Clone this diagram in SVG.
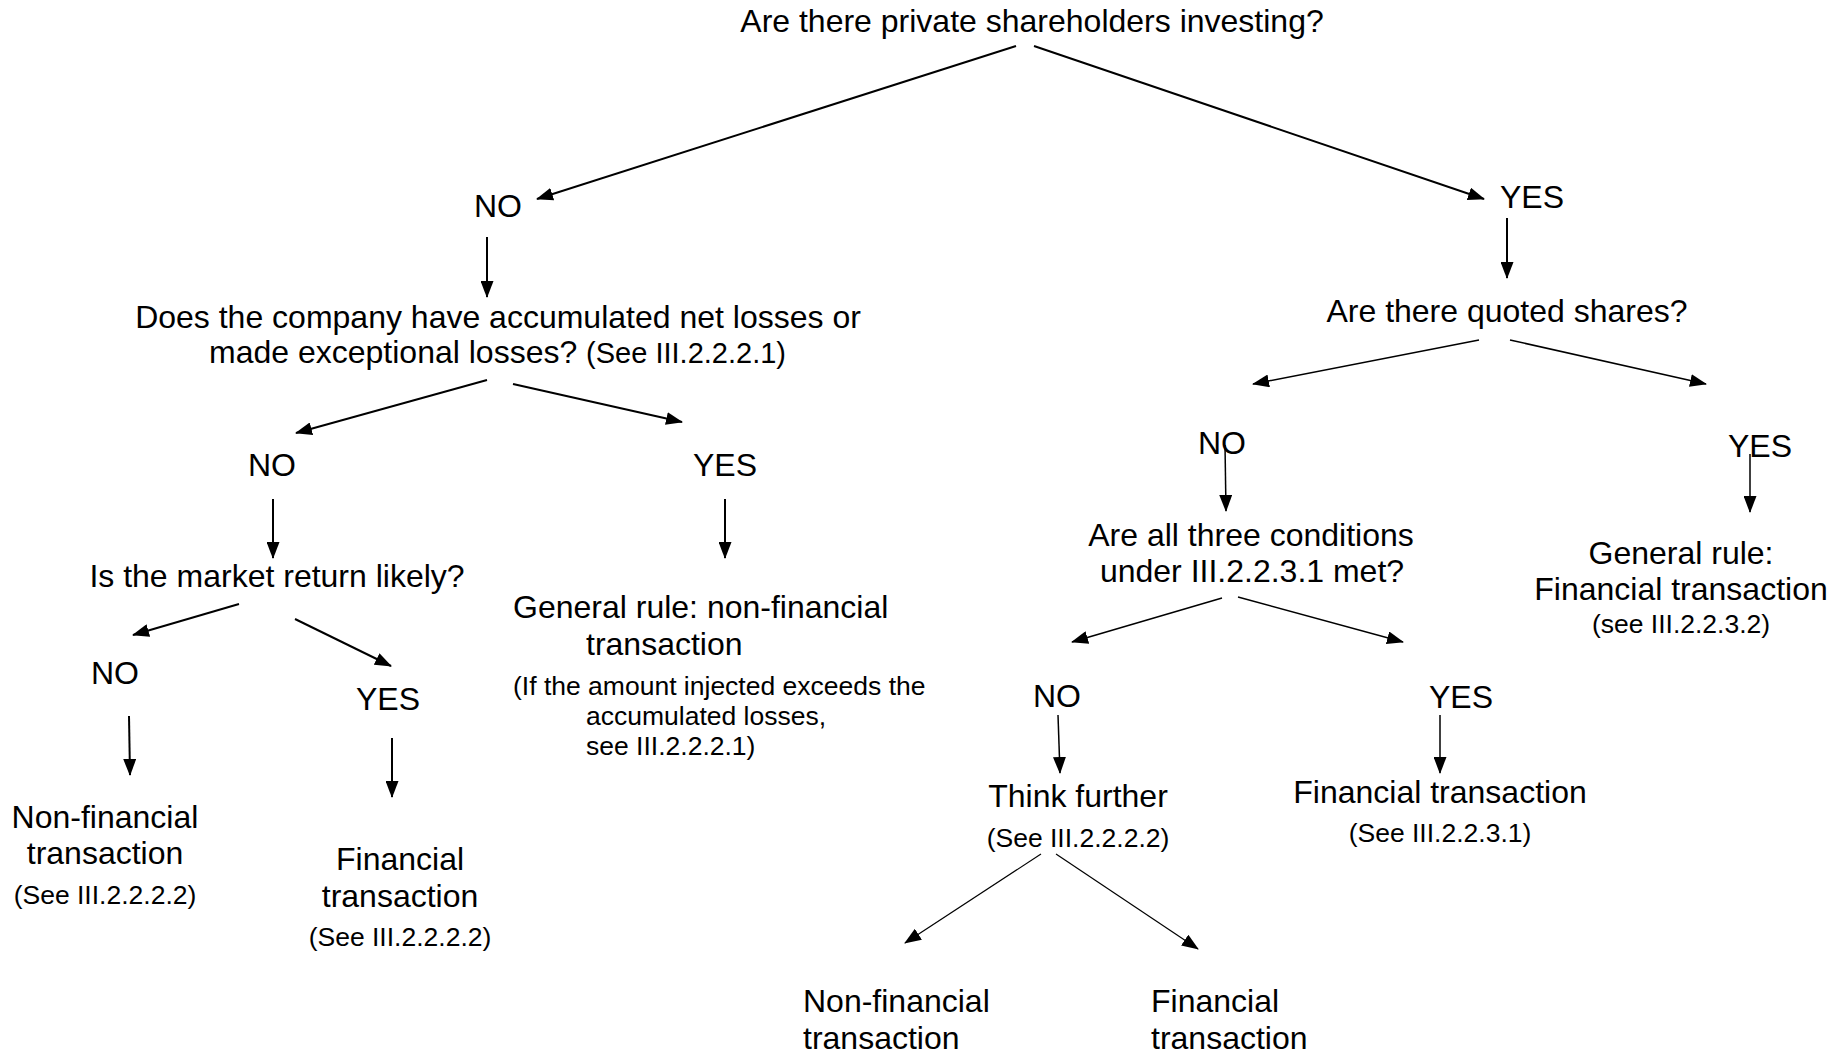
<svg xmlns="http://www.w3.org/2000/svg" width="1844" height="1053" viewBox="0 0 1844 1053">
<style>
text{font-family:"Liberation Sans",Arial,sans-serif;fill:#000}
.m{font-size:32px}
.s{font-size:26.5px}
.c{text-anchor:middle}
.a{stroke:#000;fill:none;marker-end:url(#ah)}
.w2{stroke-width:2}
.w15{stroke-width:1.5}
.w12{stroke-width:1.2}
</style>
<defs>
<marker id="ah" markerUnits="userSpaceOnUse" markerWidth="17" markerHeight="13" refX="16" refY="6.5" orient="auto">
<path d="M0,0 L17,6.5 L0,13 z" fill="#000"/>
</marker>
</defs>
<rect width="1844" height="1053" fill="#fff"/>
<g id="q-private"><text class="m c" x="1032" y="32">Are there private shareholders investing?</text></g>
<g id="no-1"><text class="m c" x="498" y="217">NO</text></g>
<g id="yes-1"><text class="m c" x="1532" y="208">YES</text></g>
<g id="q-losses"><text class="m c" x="498" y="328">Does the company have accumulated net losses or</text>
<text class="m" x="209" y="363">made exceptional losses? <tspan style="font-size:29px">(See III.2.2.2.1)</tspan></text></g>
<g id="no-2"><text class="m c" x="272" y="476">NO</text></g>
<g id="yes-2"><text class="m c" x="725" y="476">YES</text></g>
<g id="q-market"><text class="m c" x="277" y="587">Is the market return likely?</text></g>
<g id="rule-nonfin"><text class="m" x="513" y="618">General rule: non-financial</text>
<text class="m" x="586" y="655">transaction</text>
<text class="s" x="513" y="695">(If the amount injected exceeds the</text>
<text class="s" x="586" y="725">accumulated losses,</text>
<text class="s" x="586" y="755">see III.2.2.2.1)</text></g>
<g id="no-3"><text class="m c" x="115" y="684">NO</text></g>
<g id="yes-3"><text class="m c" x="388" y="710">YES</text></g>
<g id="leaf-nonfin-1"><text class="m c" x="105" y="828">Non-financial</text>
<text class="m c" x="105" y="864">transaction</text>
<text class="s c" x="105" y="904">(See III.2.2.2.2)</text></g>
<g id="leaf-fin-1"><text class="m c" x="400" y="870">Financial</text>
<text class="m c" x="400" y="907">transaction</text>
<text class="s c" x="400" y="946">(See III.2.2.2.2)</text></g>
<g id="q-quoted"><text class="m c" x="1507" y="322">Are there quoted shares?</text></g>
<g id="no-4"><text class="m c" x="1222" y="454">NO</text></g>
<g id="yes-4"><text class="m c" x="1760" y="457">YES</text></g>
<g id="q-conditions"><text class="m c" x="1251" y="546">Are all three conditions</text>
<text class="m c" x="1252" y="582">under III.2.2.3.1 met?</text></g>
<g id="rule-fin"><text class="m c" x="1681" y="564">General rule:</text>
<text class="m c" x="1681" y="600">Financial transaction</text>
<text class="s c" x="1681" y="633">(see III.2.2.3.2)</text></g>
<g id="no-5"><text class="m c" x="1057" y="707">NO</text></g>
<g id="yes-5"><text class="m c" x="1461" y="708">YES</text></g>
<g id="think-further"><text class="m c" x="1078" y="807">Think further</text>
<text class="s c" x="1078" y="847">(See III.2.2.2.2)</text></g>
<g id="leaf-fin-2"><text class="m c" x="1440" y="803">Financial transaction</text>
<text class="s c" x="1440" y="842">(See III.2.2.3.1)</text></g>
<g id="leaf-nonfin-3"><text class="m" x="803" y="1012">Non-financial</text>
<text class="m" x="803" y="1049">transaction</text></g>
<g id="leaf-fin-3"><text class="m" x="1151" y="1012">Financial</text>
<text class="m" x="1151" y="1049">transaction</text></g>
<g id="connectors">
<line class="a w2" x1="1016" y1="46" x2="537" y2="199"/>
<line class="a w2" x1="1034" y1="46" x2="1484" y2="199"/>
<line class="a w2" x1="487" y1="237" x2="487" y2="297"/>
<line class="a w2" x1="1507" y1="218" x2="1507" y2="278"/>
<line class="a w2" x1="487" y1="380" x2="296" y2="433"/>
<line class="a w2" x1="513" y1="384" x2="682" y2="422"/>
<line class="a w2" x1="273" y1="499" x2="273" y2="558"/>
<line class="a w2" x1="725" y1="499" x2="725" y2="558"/>
<line class="a w2" x1="239" y1="604" x2="133" y2="635"/>
<line class="a w2" x1="295" y1="619" x2="391" y2="666"/>
<line class="a w2" x1="129" y1="716" x2="130" y2="775"/>
<line class="a w2" x1="392" y1="738" x2="392" y2="797"/>
<line class="a w15" x1="1479" y1="340" x2="1253" y2="384"/>
<line class="a w15" x1="1510" y1="340" x2="1706" y2="384"/>
<line class="a w15" x1="1225" y1="445" x2="1226" y2="511"/>
<line class="a w15" x1="1750" y1="454" x2="1750" y2="512"/>
<line class="a w15" x1="1222" y1="598" x2="1072" y2="642"/>
<line class="a w15" x1="1238" y1="597" x2="1403" y2="642"/>
<line class="a w15" x1="1058" y1="715" x2="1060" y2="773"/>
<line class="a w15" x1="1440" y1="715" x2="1440" y2="773"/>
<line class="a w12" x1="1041" y1="854" x2="905" y2="943"/>
<line class="a w12" x1="1056" y1="854" x2="1198" y2="949"/>
</g>
</svg>
